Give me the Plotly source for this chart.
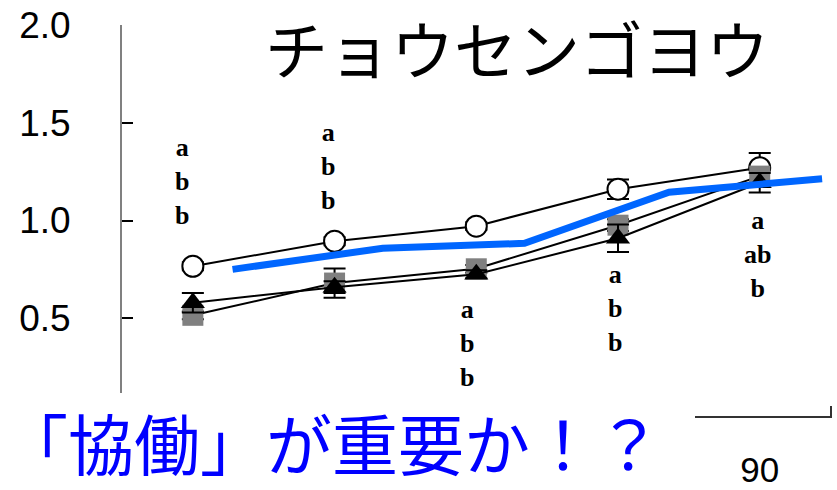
import plotly.graph_objects as go

# Sampling points: only the last one carries a visible label
sample_idx = [0, 1, 2, 3, 4]
day_labels = ["", "", "", "", "90"]
y_ticks = [0.5, 1.0, 1.5, 2.0]

# Mean values per treatment
open_circle = [0.766, 0.894, 0.971, 1.160, 1.270]
gray_square = [0.515, 0.680, 0.753, 0.976, 1.227]
black_triangle = [0.579, 0.659, 0.725, 0.909, 1.193]

# Standard errors
open_circle_err = [0.02, 0.02, 0.02, 0.05, 0.075]
gray_square_err = [0.02, 0.075, 0.02, 0.03, 0.04]
black_triangle_err = [0.05, 0.03, 0.02, 0.07, 0.05]

# Overlay trend (blue), on a continuous index scale of the same axis
trend_x = [0.28, 1.34, 2.34, 3.36, 4.44]
trend_y = [0.750, 0.858, 0.883, 1.145, 1.213]

# Significance letters (top to bottom) for each sampling point
letters = [["a", "b", "b"], ["a", "b", "b"], ["a", "b", "b"],
           ["a", "b", "b"], ["a", "ab", "b"]]
letter_y = [1.201, 1.278, 0.372, 0.551, 0.827]
letter_dx = [-11, -7, -9, -3, -2]

title_text = "チョウセンゴヨウ"
caption_text = "「協働」が重要か！？"

X_RANGE = [-0.5, 4.51]

# Plot-area geometry in pixels (used to place paper-referenced items)
PLOT_L, PLOT_R, PLOT_T, PLOT_B = 122, 832, 25, 416


def px_to_paper_x(px):
    return (px - PLOT_L) / (PLOT_R - PLOT_L)


def px_to_paper_y(py):
    return (PLOT_B - py) / (PLOT_B - PLOT_T)


fig = go.Figure()


def series(y, err, symbol, size, fill, line_col):
    return go.Scatter(
        x=sample_idx, y=y, mode="lines+markers",
        line=dict(color="black", width=2),
        marker=dict(symbol=symbol, size=size, color=fill,
                    line=dict(color=line_col, width=2 if fill == "white" else 0)),
        error_y=dict(type="data", array=err, visible=True,
                     color="black", thickness=2, width=11),
        showlegend=False, cliponaxis=False,
    )


fig.add_trace(series(open_circle, open_circle_err, "circle", 21, "white", "black"))
fig.add_trace(series(gray_square, gray_square_err, "square", 21, "#808080", "#808080"))
fig.add_trace(series(black_triangle, black_triangle_err, "triangle-up", 21, "black", "black"))

fig.add_trace(go.Scatter(
    x=trend_x, y=trend_y, mode="lines", xaxis="x2",
    line=dict(color="#0066FF", width=7),
    showlegend=False, cliponaxis=False,
))

annotations = []
for i, (lt, yv, dx) in enumerate(zip(letters, letter_y, letter_dx)):
    annotations.append(dict(
        x=sample_idx[i], y=yv, xref="x", yref="y", xshift=dx,
        text="<b>" + "<br>".join(lt) + "</b>", showarrow=False, yanchor="middle",
        font=dict(family="Liberation Serif", size=26, color="black"),
    ))

annotations.append(dict(
    x=px_to_paper_x(517), y=px_to_paper_y(46), xref="paper", yref="paper",
    text=title_text, showarrow=False, xanchor="center", yanchor="middle",
    font=dict(family="Noto Sans CJK JP", size=63, color="black"),
))

# Caption text over the lower-left corner
annotations.append(dict(
    x=px_to_paper_x(0), y=px_to_paper_y(441), xref="paper", yref="paper",
    xanchor="left", yanchor="middle",
    text=caption_text, showarrow=False, align="left",
    font=dict(family="Noto Sans CJK JP", size=66, color="#0000FF"),
))

# White panel behind the caption
shapes = [dict(
    type="rect", xref="paper", yref="paper", layer="above",
    x0=px_to_paper_x(0), x1=px_to_paper_x(695),
    y0=px_to_paper_y(490), y1=px_to_paper_y(393),
    fillcolor="white", line=dict(width=0),
)]

fig.update_layout(
    width=837, height=490,
    margin=dict(l=PLOT_L, r=837 - PLOT_R, t=PLOT_T, b=490 - PLOT_B, autoexpand=False),
    paper_bgcolor="white", plot_bgcolor="white",
    xaxis=dict(
        type="category", categoryarray=sample_idx, range=X_RANGE,
        tickvals=sample_idx, ticktext=day_labels,
        showline=True, linecolor="#333333", linewidth=2,
        ticks="inside", tickson="boundaries", ticklen=10, tickcolor="#333333",
        tickwidth=1.5, showgrid=False, zeroline=False, automargin=False,
        tickfont=dict(family="Liberation Sans Narrow, Liberation Sans", size=35, color="black"),
        ticklabelstandoff=22,
    ),
    xaxis2=dict(
        overlaying="x", range=X_RANGE, visible=False,
    ),
    yaxis=dict(
        range=[0, 2.0], tickmode="array", tickvals=y_ticks, tickformat=".1f",
        showline=True, linecolor="#808080", linewidth=2,
        ticks="inside", ticklen=11, tickcolor="black", tickwidth=1.5,
        showgrid=False, zeroline=False, automargin=False,
        tickfont=dict(family="Liberation Sans", size=37, color="black"),
        ticklabelstandoff=42,
    ),
    annotations=annotations,
    shapes=shapes,
)

fig.write_html("out.html")
